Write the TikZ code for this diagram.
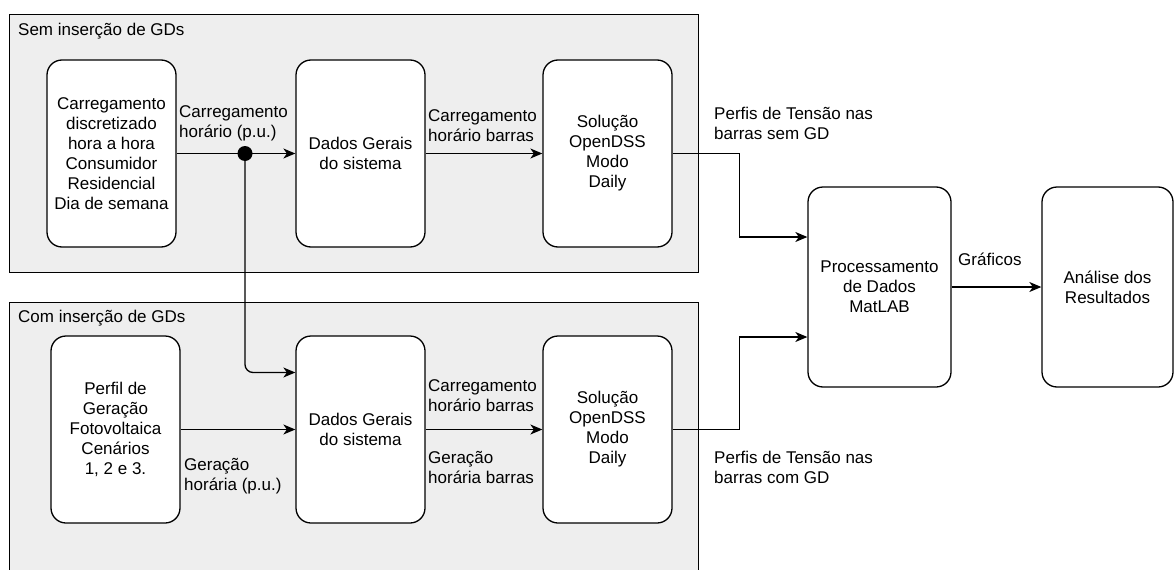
\documentclass[tikz,border=0pt]{standalone}
\usepackage{fontspec}
\setmainfont{Liberation Sans}
\usetikzlibrary{arrows.meta}
\definecolor{contfill}{HTML}{EEEEEE}
\newcommand{\diagfont}{\fontsize{17}{20}\selectfont}
\tikzset{
  container/.style={draw, line width=1pt, fill=contfill, inner sep=0pt},
  procbox/.style={draw, line width=1.3pt, rounded corners=15pt, fill=white,
    minimum width=129pt, minimum height=187pt, align=center, inner sep=2pt, font=\diagfont},
  lbl/.style={anchor=west, align=left, inner sep=0pt, font=\diagfont},
  arr/.style={line width=1.3pt, -{Stealth[length=12pt,width=10pt,inset=3.5pt]}},
  conn/.style={line width=1.3pt},
  junction/.style={circle, fill=black, inner sep=0pt, minimum size=15pt}
}
\begin{document}
\begin{tikzpicture}[x=1pt,y=-1pt]
\useasboundingbox (0,0) rectangle (1175,570);
\clip (0,0) rectangle (1175,570);
\fill[white] (0,0) rectangle (1175,570);
% containers
\node[container, minimum width=689pt, minimum height=258pt] (top) at (353.5,143) {};
\node[container, minimum width=689pt, minimum height=300pt] (bot) at (353.5,452) {};
\node[lbl] (ttop) at (18,31) {Sem inserção de GDs};
\node[lbl] (tbot) at (18,318) {Com inserção de GDs};
% boxes
\node[procbox] (b1) at (111.5,153.5) {Carregamento\\discretizado\\hora a hora\\Consumidor\\Residencial\\Dia de semana};
\node[procbox] (b2) at (360.5,153.5) {Dados Gerais\\do sistema};
\node[procbox] (b3) at (607.5,153.5) {Solução\\OpenDSS\\Modo\\Daily};
\node[procbox] (b4) at (115.5,429.5) {Perfil de\\Geração\\Fotovoltaica\\Cenários\\1, 2 e 3.};
\node[procbox] (b5) at (360.5,429.5) {Dados Gerais\\do sistema};
\node[procbox] (b6) at (607.5,429.5) {Solução\\OpenDSS\\Modo\\Daily};
\node[procbox, minimum width=143pt, minimum height=200pt] (proc) at (879.5,287) {Processamento\\de Dados\\MatLAB};
\node[procbox, minimum width=131pt, minimum height=200pt] (ana) at (1107.5,287) {Análise dos\\Resultados};
% connectors
\draw[arr] (b1) -- (b2);
\node[junction] (j) at (245,153.5) {};
\draw[arr, rounded corners=8pt] (j.center) |- ([yshift=57pt]b5.west);
\draw[arr] (b2) -- (b3);
\draw[arr] (b4) -- (b5);
\draw[arr] (b5) -- (b6);
\draw[arr] (b3.east) -- ++(67,0) |- ([yshift=50pt]proc.west);
\draw[arr] (b6.east) -- ++(67,0) |- ([yshift=-50pt]proc.west);
\draw[arr] (proc) -- (ana);
% labels
\node[lbl] (l1) at (179,123) {Carregamento\\horário (p.u.)};
\node[lbl] (l2) at (428,126) {Carregamento\\horário barras};
\node[lbl] (l3) at (428,396) {Carregamento\\horário barras};
\node[lbl] (l4) at (428,467) {Geração\\horária barras};
\node[lbl] (l5) at (184,476) {Geração\\horária (p.u.)};
\node[lbl] (l6) at (714,123) {Perfis de Tensão nas\\barras sem GD};
\node[lbl] (l7) at (714,467) {Perfis de Tensão nas\\barras com GD};
\node[lbl] (l8) at (958,259) {Gráficos};
\end{tikzpicture}
\end{document}
